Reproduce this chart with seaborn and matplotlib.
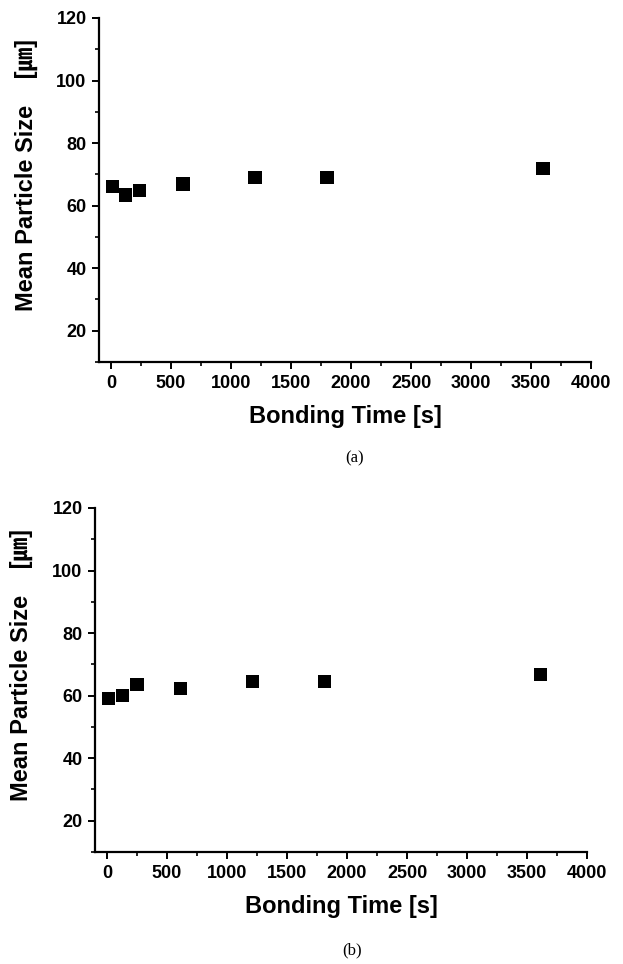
import matplotlib
matplotlib.use("Agg")
import matplotlib.pyplot as plt
import seaborn as sns
import pandas as pd
from matplotlib.ticker import MultipleLocator

sns.set_theme(style="ticks")
plt.rcParams['font.family'] = ['Liberation Sans', 'Noto Sans CJK JP', 'DejaVu Sans']
plt.rcParams['text.color'] = 'black'
plt.rcParams['axes.labelcolor'] = 'black'

time_a = [10, 120, 240, 600, 1200, 1800, 3600]
size_a = [66.0, 63.4, 64.8, 66.9, 69.0, 69.0, 71.9]
time_b = [10, 130, 250, 610, 1210, 1810, 3610]
size_b = [59.1, 60.0, 63.6, 62.3, 64.4, 64.5, 66.7]

xticks = [0, 500, 1000, 1500, 2000, 2500, 3000, 3500, 4000]
yticks = [20, 40, 60, 80, 100, 120]
xlabel = "Bonding Time [s]"
ylabel = "Mean Particle Size    [\u339b]"
captions = ["(a)", "(b)"]

W, H = 623, 964
fig = plt.figure(figsize=(W / 100, H / 100), dpi=100)

def px(l, t, r, b):
    return [l / W, 1 - b / H, (r - l) / W, (b - t) / H]

rects = [px(99, 18, 591, 362), px(95, 508, 587, 852)]
datasets = [(time_a, size_a), (time_b, size_b)]
cap_pos = [(355, 458), (352, 950)]
ylab_x = [-0.124, -0.126]

for rect, (tx, sy), cap, (cx, cy), lx in zip(rects, datasets, captions, cap_pos, ylab_x):
    ax = fig.add_axes(rect)
    df = pd.DataFrame({"t": tx, "s": sy})
    sns.scatterplot(data=df, x="t", y="s", ax=ax, marker="s", s=90,
                    color="black", edgecolor="none", linewidth=0)
    ax.set_xlim(-100, 4000)
    ax.set_ylim(10, 120)
    ax.set_xticks(xticks)
    ax.set_yticks(yticks)
    ax.xaxis.set_minor_locator(MultipleLocator(250))
    ax.yaxis.set_minor_locator(MultipleLocator(10))
    for sp in ["top", "right"]:
        ax.spines[sp].set_visible(False)
    for sp in ["left", "bottom"]:
        ax.spines[sp].set_linewidth(1.6)
        ax.spines[sp].set_color("black")
    ax.tick_params(axis="both", which="major", direction="out", length=5,
                   width=1.4, colors="black", labelsize=13, pad=4)
    ax.tick_params(axis="both", which="minor", direction="out", length=3,
                   width=1.2, colors="black")
    for lab in ax.get_xticklabels() + ax.get_yticklabels():
        lab.set_fontweight("bold")
    ax.set_xlabel(xlabel, fontsize=17, fontweight="bold", labelpad=10, color="black")
    ax.set_ylabel(ylabel, fontsize=17, fontweight="bold", color="black")
    ax.yaxis.set_label_coords(lx, 0.545)
    ax.set_facecolor("white")
    fig.text(cx / W, 1 - cy / H, cap, ha="center", va="center",
             fontsize=12, color="black", family=["Liberation Serif", "DejaVu Serif"])

fig.savefig("out.png", dpi=100, facecolor="white")
